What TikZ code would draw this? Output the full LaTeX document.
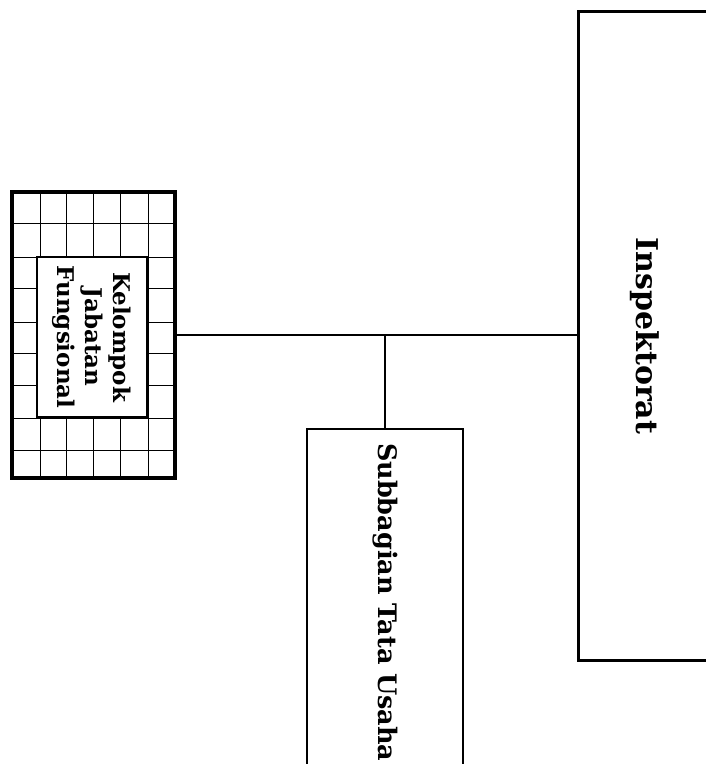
\documentclass[tikz,border=0pt]{standalone}
\usepackage{fontspec}
\setmainfont{DejaVu Serif}
\begin{document}
\begin{tikzpicture}[x=1pt, y=-1pt,
    unit/.style={draw, rotate=-90, font=\bfseries, inner sep=0pt},
    link/.style={line width=2.8pt}]
    \useasboundingbox (0, 0) rectangle (706, 764);

    % Inspektorat (runs past the right edge)
    \node[unit, line width=3pt, minimum width=649, minimum height=134,
        font=\bfseries\fontsize{30}{36}\selectfont] (inspektorat) at (645, 336) {Inspektorat};

    % Kelompok Jabatan Fungsional - grid background
    \node[draw, line width=3.5pt, minimum width=163, minimum height=286, inner sep=0pt] (grid) at (93.5, 335) {};
    \foreach \x in {40, 66, 93, 120, 148} {
        \draw[line width=0.9pt] (\x, 192) -- (\x, 478);
    }
    \foreach \y in {223, 257, 288, 322, 353, 385, 418, 450} {
        \draw[line width=0.9pt] (12, \y) -- (175, \y);
    }
    \node[unit, fill=white, line width=2.2pt, minimum width=160, minimum height=110, align=center,
        font=\bfseries\fontsize{23}{28}\selectfont] (jabfung) at (92, 337) {Kelompok\\Jabatan\\Fungsional};

    % Subbagian Tata Usaha (runs past the bottom edge)
    \node[unit, anchor=west, line width=2.2pt, minimum width=400, minimum height=156,
        inner xsep=14pt, text width=372, align=left,
        font=\bfseries\fontsize{25.5}{30}\selectfont] (tatausaha) at (385, 428) {Subbagian Tata Usaha};

    % Connectors
    \draw[link] (grid.east) -- (grid.east -| inspektorat.south);
    \draw[link] (tatausaha.west) -- (tatausaha.west |- grid.east);
\end{tikzpicture}
\end{document}
